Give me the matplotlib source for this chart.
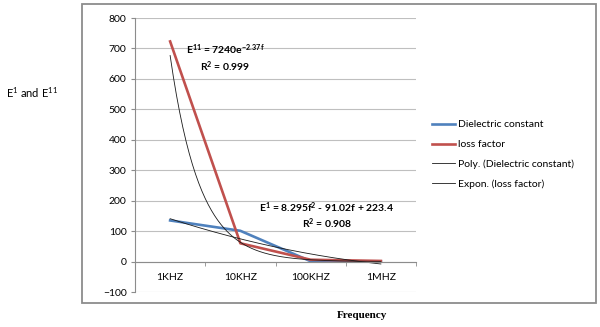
import numpy as np
import matplotlib
matplotlib.use("Agg")
import matplotlib.pyplot as plt
from matplotlib.patches import Rectangle

plt.rcParams['font.family'] = ['Lato', 'DejaVu Sans']
plt.rcParams['mathtext.default'] = 'regular'

# dados
categories = ['1KHZ', '10KHZ', '100KHZ', '1MHZ']
dielectric = [135, 101, 1, 0]
loss_factor = [723, 60, 6, 2]

poly_coef = [8.295, -91.02, 223.4]
exp_coef = [7240, -2.37]

y_ticks = list(range(-100, 801, 100))

x = np.arange(1, len(categories) + 1)
xf = np.linspace(1, len(categories), 200)
poly_trend = np.polyval(poly_coef, xf)
exp_trend = exp_coef[0] * np.exp(exp_coef[1] * xf)

fig = plt.figure(figsize=(6, 3.27), dpi=100)

# moldura externa do grafico
fig.patches.append(Rectangle((82 / 600, 1 - 303 / 327), (596 - 82) / 600, (303 - 4) / 327,
                             transform=fig.transFigure, fill=False,
                             edgecolor='#8c8c8c', linewidth=1.3))

ax = fig.add_axes([135 / 600, 35 / 327, (416 - 135) / 600, (292 - 18) / 327])

ax.plot(x, dielectric, color='#4F81BD', linewidth=1.9, label='Dielectric constant')
ax.plot(x, loss_factor, color='#C0504D', linewidth=1.9, label='loss factor')
ax.plot(xf, poly_trend, color='#1a1a1a', linewidth=0.6, label='Poly. (Dielectric constant)')
ax.plot(xf, exp_trend, color='#1a1a1a', linewidth=0.6, label='Expon. (loss factor)')

ax.set_xlim(0.5, len(categories) + 0.5)
ax.set_ylim(-100, 800)
ax.set_yticks(y_ticks)
ax.tick_params(axis='y', labelsize=7.5, length=3, color='#8c8c8c', pad=3)
ax.yaxis.grid(True, color='#bfbfbf', linewidth=0.8)
ax.set_axisbelow(True)

ax.spines['top'].set_visible(False)
ax.spines['right'].set_visible(False)
ax.spines['left'].set_color('#8c8c8c')
ax.spines['bottom'].set_position(('data', 0))
ax.spines['bottom'].set_color('#8c8c8c')

ax.set_xticks(x)
ax.set_xticklabels(categories)
ax.set_xticks(np.arange(0.5, len(categories) + 1, 1), minor=True)
ax.tick_params(axis='x', which='major', length=0, labelsize=7.5, pad=8)
ax.tick_params(axis='x', which='minor', length=3, color='#8c8c8c')

ax.text(1.78, 668, 'E$^{11}$ = 7240e$^{-2.37f}$\nR$^{2}$ = 0.999', fontsize=7.5,
        fontweight='bold', ha='center', va='center', multialignment='center',
        linespacing=1.15)
ax.text(3.23, 150, 'E$^{1}$ = 8.295f$^{2}$ - 91.02f + 223.4\nR$^{2}$ = 0.908', fontsize=7.5,
        fontweight='bold', ha='center', va='center', multialignment='center',
        linespacing=1.15)

fig.legend(loc='upper left', bbox_to_anchor=(428 / 600, 1 - 116 / 327), frameon=False,
           fontsize=7.5, handlelength=2.2, handletextpad=0.3, labelspacing=1.0,
           borderaxespad=0)

fig.text(6 / 600, 1 - 93 / 327, 'E$^{1}$ and E$^{11}$', fontsize=8, va='center', ha='left')
fig.text(362 / 600, 1 - 316 / 327, 'Frequency', fontsize=8, fontweight='bold',
         family='Liberation Serif', ha='center', va='center')

fig.savefig('out.png', dpi=100)
